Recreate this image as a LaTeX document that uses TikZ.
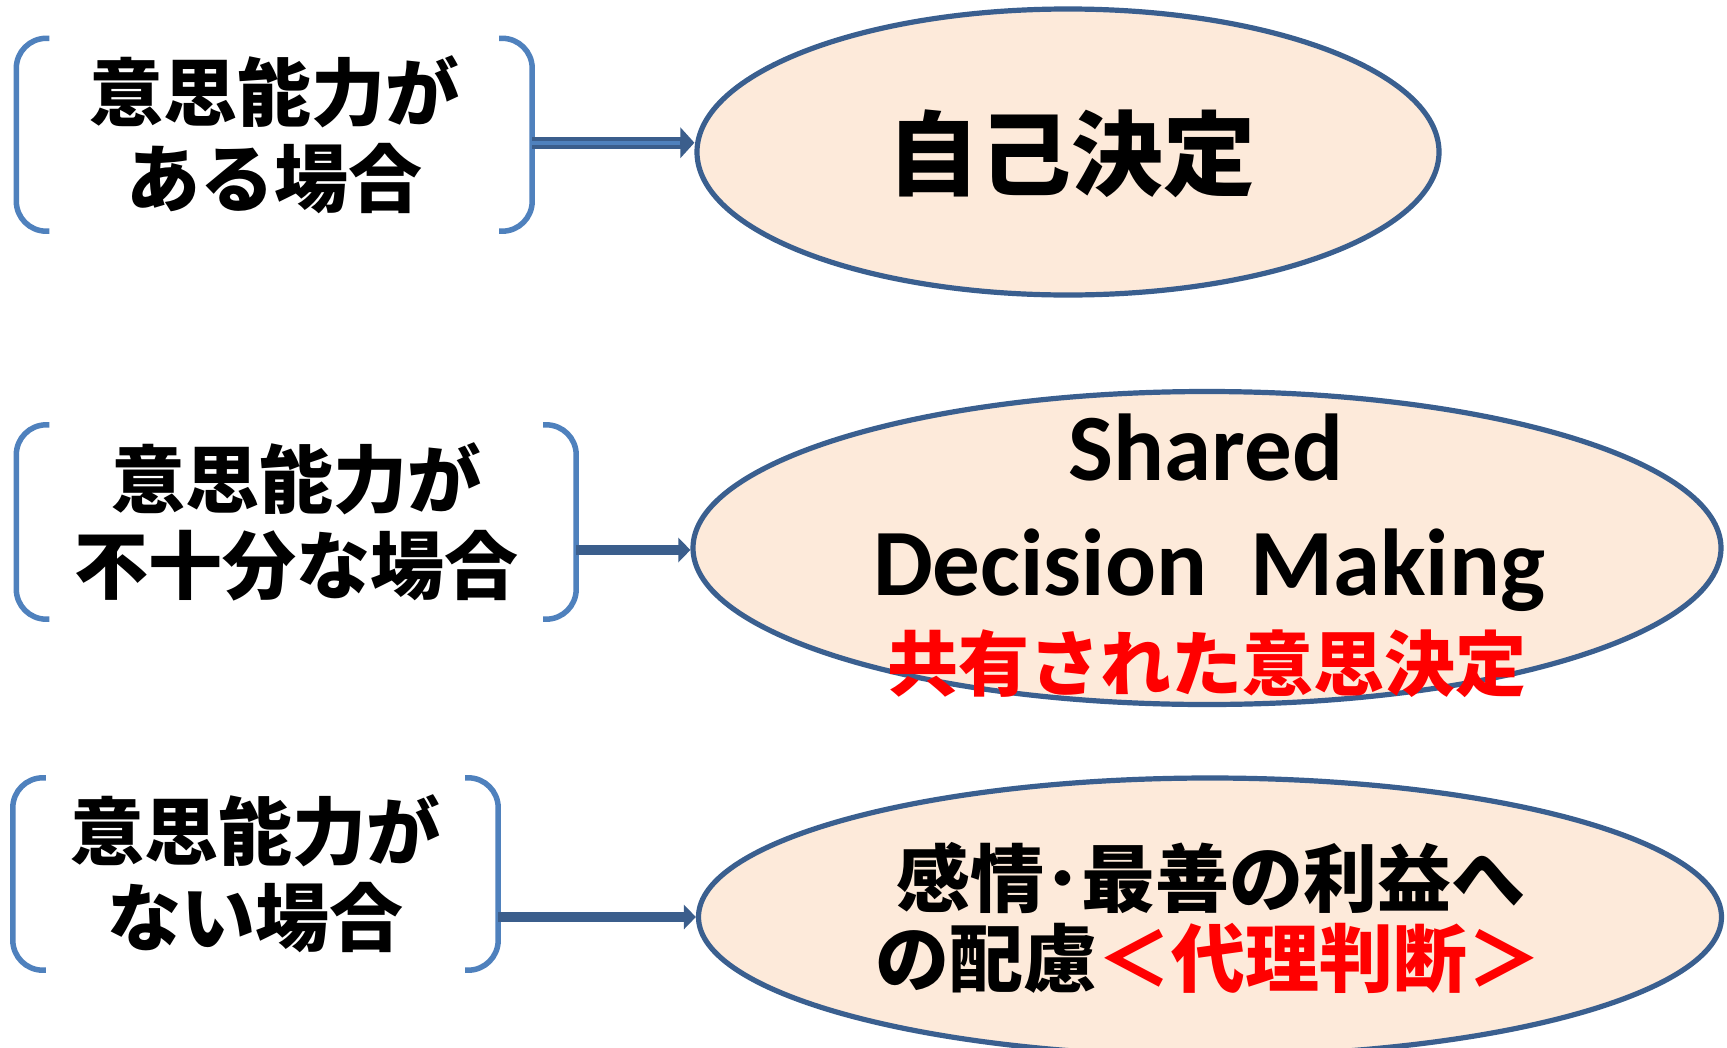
\documentclass[tikz,border=0pt]{standalone}
\usepackage{fontspec}
\setmainfont{Carlito}
\newfontfamily\jp{Noto Sans CJK JP}
\usetikzlibrary{shapes.geometric,arrows.meta}
\definecolor{brk}{HTML}{4F81BD}
\definecolor{ellb}{HTML}{3A5F8F}
\definecolor{ellf}{HTML}{FDEADA}
\definecolor{arrc}{HTML}{3B5E8C}
\definecolor{jred}{HTML}{FF0000}
\begin{document}
\begin{tikzpicture}[x=1pt,y=-1pt,
  brkline/.style={line width=5.5pt, draw=brk, rounded corners=30pt},
  ell/.style={ellipse, draw=ellb, line width=5.2pt, fill=ellf, inner sep=0pt},
  brkbox/.style={inner sep=0pt, align=center, font=\jp\bfseries\fontsize{74}{86}\selectfont},
  jptext/.style={inner sep=0pt, font=\jp\bfseries\fontsize{74}{86}\selectfont},
  entext/.style={inner sep=0pt, anchor=base, font=\bfseries\fontsize{95}{100}\selectfont},
  arr/.style={draw=arrc, line width=10pt, -{Triangle[length=12pt,width=24pt]}}
]
\useasboundingbox[fill=white] (0,0) rectangle (1727,1047);

% brackets
\node[brkbox, minimum width=515.5pt, minimum height=192.5pt] (b1) at (274.25,134.75) {意思能力が\\ある場合};
\node[brkbox, minimum width=559.5pt, minimum height=194pt] (b2) at (296.25,522) {意思能力が\\不十分な場合};
\node[brkbox, minimum width=485pt, minimum height=192pt] (b3) at (255.5,874) {意思能力が\\ない場合};
\foreach \b in {b1,b2,b3}{
  \draw[brkline] ([xshift=33pt]\b.north west) -- (\b.north west) -- (\b.south west) -- ([xshift=33pt]\b.south west);
  \draw[brkline] ([xshift=-33pt]\b.north east) -- (\b.north east) -- (\b.south east) -- ([xshift=-33pt]\b.south east);
}

% ellipses
\node[ell, minimum width=742pt, minimum height=286pt] (e1) at (1068,152) {};
\node[ell, minimum width=1028pt, minimum height=313pt] (e2) at (1207,548) {};
\node[ell, minimum width=1023pt, minimum height=278pt] (e3) at (1210,917) {};

% ellipse texts
\node[inner sep=0pt, font=\jp\bfseries\fontsize{92}{100}\selectfont] (t1) at (1071,154) {自己決定};
\node[entext] (t2a) at (1206,480) {Shared};
\node[entext] (t2b) at (1209,595) {Decision\ \ Making};
\node[jptext, text=jred, font=\jp\bfseries\fontsize{71}{80}\selectfont] (t2c) at (1207,664) {共有された意思決定};
\node[jptext] (t3a) at (1211,878) {感情･最善の利益へ};
\node[jptext] (t3b) at (1208,958) {の配慮\textcolor{jred}{＜代理判断＞}};

% arrows
\coordinate (a1s) at ([yshift=-8pt]b1.east);
\coordinate (a1e) at (e1.west |- a1s);
\draw[draw=arrc, line width=12pt, -{Triangle[length=14pt,width=30pt]}] (a1s) -- (a1e);
\draw[draw=brk, line width=3.5pt, shorten >=14pt] (a1s) -- (a1e);
\coordinate (a2s) at (b2.east |- e2.west);
\draw[arr] ([yshift=-2pt]a2s) -- ([yshift=-2pt]e2.west);
\draw[arr] (b3.east |- e3.west) -- (e3.west);
\end{tikzpicture}
\end{document}
